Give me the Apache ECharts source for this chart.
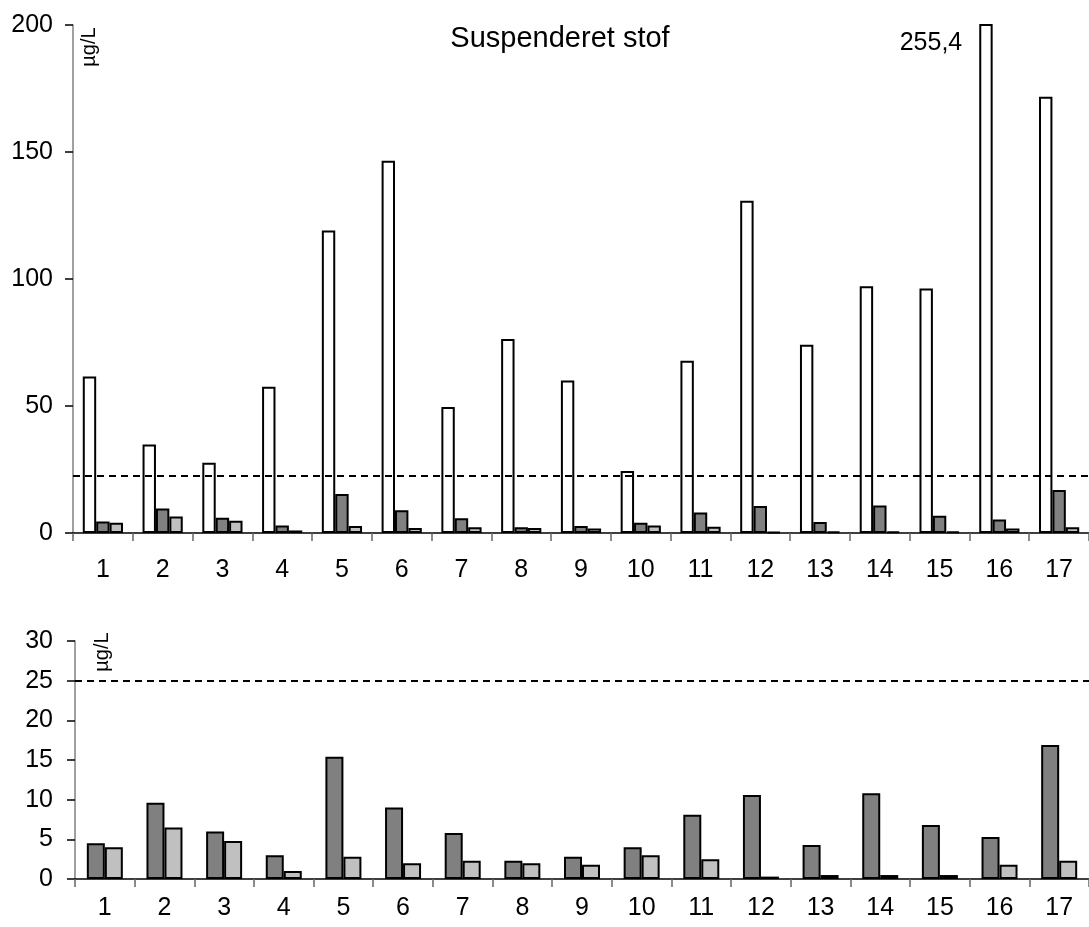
<!DOCTYPE html>
<html>
<head>
<meta charset="utf-8">
<script src="https://cdn.jsdelivr.net/npm/echarts@6/dist/echarts.min.js"></script>
<style>
html,body{margin:0;padding:0;background:#fff;}
#chart{width:1089px;height:927px;}
</style>
</head>
<body>
<div id="chart"></div>
<script>
const categories = ['1','2','3','4','5','6','7','8','9','10','11','12','13','14','15','16','17'];
const suspended = [61.6, 34.8, 27.7, 57.6, 119.1, 146.6, 49.6, 76.4, 60.0, 24.4, 67.8, 130.8, 74.1, 97.1, 96.3, 255.4, 171.8];
const dark = [4.5, 9.6, 6.0, 3.0, 15.4, 9.0, 5.8, 2.3, 2.8, 4.0, 8.1, 10.6, 4.3, 10.8, 6.8, 5.3, 16.9];
const light = [4.0, 6.5, 4.8, 1.0, 2.8, 2.0, 2.3, 2.0, 1.8, 3.0, 2.5, 0.3, 0.5, 0.5, 0.5, 1.8, 2.3];
const topTicks = {min: 0, max: 200, interval: 50};
const bottomTicks = {min: 0, max: 30, interval: 5};
const topLimit = 22.5;
const bottomLimit = 25;
const titleText = 'Suspenderet stof';
const unitText = 'µg/L';

const FONT = 'Liberation Sans, Arial, sans-serif';
const chart = echarts.init(document.getElementById('chart'), null, {renderer: 'canvas'});

const outOfRangeIdx = suspended.findIndex(v => v > topTicks.max);

function xAxisCfg(gridIndex, margin) {
  return {
    type: 'category', gridIndex, data: categories,
    axisLine: {lineStyle: {color: '#000', width: 1.5}},
    axisTick: {show: true, length: 8, lineStyle: {color: '#666', width: 1.5}, alignWithLabel: false},
    axisLabel: {color: '#000', fontSize: 25, fontFamily: FONT, margin, interval: 0},
    splitLine: {show: false}
  };
}
function yAxisCfg(gridIndex, ticks, margin) {
  return {
    type: 'value', gridIndex, min: ticks.min, max: ticks.max, interval: ticks.interval,
    axisLine: {show: true, lineStyle: {color: '#808080', width: 1.5}},
    axisTick: {show: true, length: 8, inside: false, lineStyle: {color: '#000', width: 1.5}},
    axisLabel: {color: '#000', fontSize: 25, fontFamily: FONT, margin},
    splitLine: {show: false}
  };
}
const limitLine = (v) => ({
  silent: true, symbol: 'none',
  lineStyle: {color: '#000', type: [7, 5], width: 1.8},
  label: {show: false},
  data: [{yAxis: v}]
});
const barStyle = (color) => ({color, borderColor: '#000', borderWidth: 2});

chart.setOption({
  animation: false,
  backgroundColor: '#fff',
  grid: [
    {left: 73, top: 25, right: -8, bottom: 394, containLabel: false},
    {left: 75, top: 641, right: -2, bottom: 48, containLabel: false}
  ],
  xAxis: [xAxisCfg(0, 25), xAxisCfg(1, 17)],
  yAxis: [yAxisCfg(0, topTicks, 20), yAxisCfg(1, bottomTicks, 22)],
  graphic: [
    {type: 'text', x: 560, y: 38.5, silent: true,
     style: {text: titleText, font: '29px ' + FONT, fill: '#000', align: 'center', verticalAlign: 'middle'}},
    {type: 'text', x: 89, y: 47, rotation: Math.PI / 2, silent: true,
     style: {text: unitText, font: '20px ' + FONT, fill: '#000', align: 'center', verticalAlign: 'middle'}},
    {type: 'text', x: 102, y: 652, rotation: Math.PI / 2, silent: true,
     style: {text: unitText, font: '20px ' + FONT, fill: '#000', align: 'center', verticalAlign: 'middle'}}
  ],
  series: [
    {type: 'bar', xAxisIndex: 0, yAxisIndex: 0, data: suspended, barWidth: 13.4, barGap: '0%',
     itemStyle: barStyle('#fff'), clip: true,
     markLine: limitLine(topLimit),
     markPoint: {
       symbol: 'circle', symbolSize: 1, itemStyle: {color: 'rgba(0,0,0,0)'},
       data: outOfRangeIdx >= 0 ? [{coord: [outOfRangeIdx, 193], value: suspended[outOfRangeIdx]}] : [],
       label: {show: true, position: 'inside', offset: [-55, 0], color: '#000', fontSize: 25, fontFamily: FONT,
               formatter: p => String(p.value).replace('.', ',')}
     }},
    {type: 'bar', xAxisIndex: 0, yAxisIndex: 0, data: dark, barWidth: 13.4, barGap: '0%',
     itemStyle: barStyle('#808080')},
    {type: 'bar', xAxisIndex: 0, yAxisIndex: 0, data: light, barWidth: 13.4, barGap: '0%',
     itemStyle: barStyle('#c0c0c0')},
    {type: 'bar', xAxisIndex: 1, yAxisIndex: 1, data: dark, barWidth: 18, barGap: '0%',
     itemStyle: barStyle('#808080'),
     markLine: limitLine(bottomLimit)},
    {type: 'bar', xAxisIndex: 1, yAxisIndex: 1, data: light, barWidth: 18, barGap: '0%',
     itemStyle: barStyle('#c0c0c0')}
  ]
});
</script>
</body>
</html>
